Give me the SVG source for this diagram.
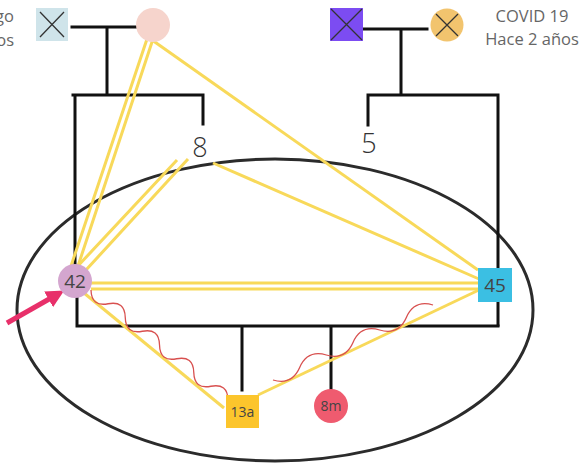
<svg xmlns="http://www.w3.org/2000/svg" width="581" height="463" viewBox="0 0 581 463">
  <style>
    .line { stroke: #111; stroke-width: 3; fill: none; stroke-linecap: square; }
    .bond { stroke: #f8d95a; stroke-width: 3; fill: none; }
    .wave { stroke: #d8504f; stroke-width: 1.3; fill: none; }
    .cross { stroke: #333; stroke-width: 1.3; }
    .note { font-family: "Open Sans", "Liberation Sans", sans-serif; font-size: 16.5px; fill: #666; }
    .label { font-family: "Open Sans", "Liberation Sans", sans-serif; fill: #444; text-anchor: middle; }
    .count { font-family: "Open Sans", "Liberation Sans", sans-serif; font-size: 27px; font-weight: 300; fill: #333; text-anchor: middle; }
  </style>
  <defs>
    <marker id="arrowhead" viewBox="0 0 10 10" refX="6" refY="5" markerWidth="3.6" markerHeight="3.6" orient="auto">
      <path d="M0 0 L10 5 L0 10 Z" fill="#e8306a"/>
    </marker>
  </defs>

  <rect width="581" height="463" fill="#fff"/>

  <!-- household boundary -->
  <ellipse cx="275" cy="310" rx="258" ry="151" fill="none" stroke="#2b2b2b" stroke-width="3"/>

  <!-- side notes -->
  <text class="note" x="14" y="22" text-anchor="end">go</text>
  <text class="note" x="14" y="46" text-anchor="end">os</text>
  <text class="note" x="532" y="22" text-anchor="middle">COVID 19</text>
  <text class="note" x="532" y="45" text-anchor="middle">Hace 2 años</text>

  <g id="connectors">
    <!-- family lines -->
    <path class="line" d="M72 27 H137 M107 27 V93 M73 95 H203 M75 97 V264 M203 97 V124"/>
    <path class="line" d="M363 29 H427 M401 29 V93 M368 95 H498 M368 95 V125 M498 95 V268 M498 302 V325"/>
    <path class="line" d="M77 298 V326 H498 M242 326 V390 M331 326 V389"/>

    <!-- relationship bonds -->
    <path class="bond" d="M147 39 L71 266 M153 39 L78 266"/>
    <path class="bond" d="M152 40 L478 270"/>
    <path class="bond" d="M177 160 L76 268 M188 159 L86 270"/>
    <path class="bond" d="M213 163 L479 279"/>
    <path class="bond" d="M91 283 H479 M91 289 H479"/>
    <path class="bond" d="M84 293 L224 408"/>
    <path class="bond" d="M258 395 L481 289"/>

    <!-- conflict lines -->
    <path class="wave" d="M91 290 q0.42 17.01 17.13 13.75 t17.13 13.75 t17.13 13.75 t17.13 13.75 t17.13 13.75 t17.13 13.75 t17.13 13.75 t17.13 13.75"/>
    <path class="wave" d="M273 380 q18.85 5.52 26.67 -12.5 t26.67 -12.5 t26.67 -12.5 t26.67 -12.5 t26.67 -12.5 t26.67 -12.5"/>

    <!-- index person pointer -->
    <path d="M7 323 L58 294" stroke="#e8306a" stroke-width="5" fill="none" marker-end="url(#arrowhead)"/>
  </g>

  <g id="grandfather-paternal">
    <rect x="36" y="8" width="32" height="33" fill="#cfe4ea"/>
    <path class="cross" d="M40 12 L64 37 M64 12 L40 37"/>
  </g>
  <g id="grandmother-paternal">
    <circle cx="153" cy="25" r="17" fill="#f6d4cc"/>
  </g>
  <g id="grandfather-maternal">
    <rect x="330" y="8" width="33" height="33" fill="#7c4cf2"/>
    <path class="cross" d="M331 9 L362 40 M362 9 L331 40"/>
  </g>
  <g id="grandmother-maternal">
    <circle cx="447" cy="25" r="16.5" fill="#f2c46e"/>
    <path class="cross" d="M436 14 L458 36 M458 14 L436 36"/>
  </g>

  <g id="siblings-paternal">
    <text class="count" x="200" y="157">8</text>
  </g>
  <g id="siblings-maternal">
    <text class="count" x="369" y="153">5</text>
  </g>

  <g id="mother-42">
    <circle cx="75" cy="281" r="17" fill="#d4a6cf"/>
    <text class="label" x="75" y="288" font-size="19">42</text>
  </g>
  <g id="father-45">
    <rect x="478" y="268" width="34" height="34" fill="#3bbfe3"/>
    <text class="label" x="495" y="292" font-size="19">45</text>
  </g>
  <g id="son-13a">
    <rect x="226" y="395" width="33" height="33" fill="#fcc52c"/>
    <text class="label" x="242.5" y="417" font-size="14">13a</text>
  </g>
  <g id="daughter-8m">
    <circle cx="331" cy="406" r="17" fill="#ef5b6f"/>
    <text class="label" x="331" y="411" font-size="14" fill="#3a2a2a">8m</text>
  </g>
</svg>
